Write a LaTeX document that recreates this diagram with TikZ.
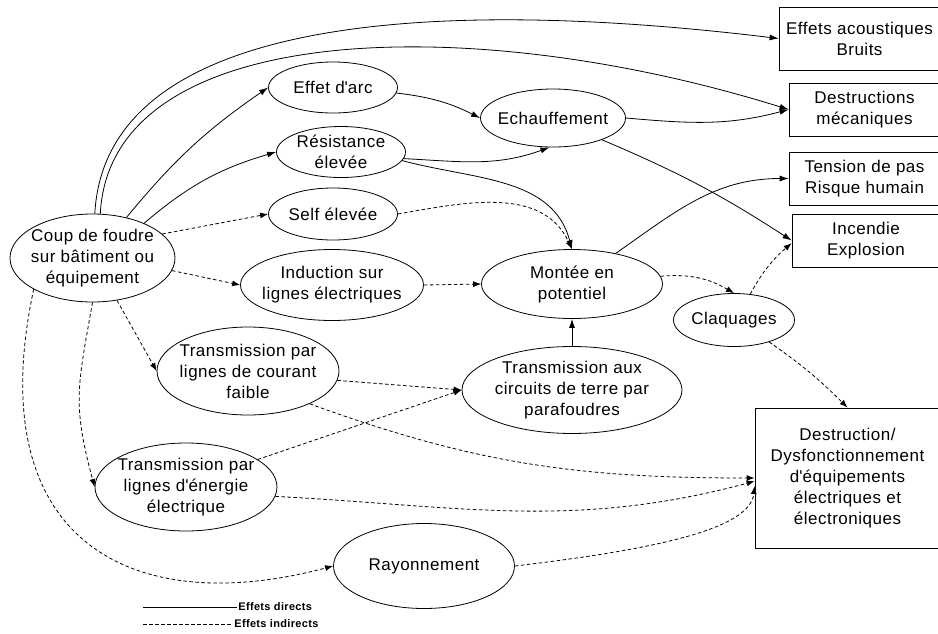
\documentclass[tikz,border=0pt]{standalone}
\usepackage{fontspec}
\setmainfont[LetterSpace=3]{Liberation Sans}
\usetikzlibrary{shapes.geometric, arrows.meta, positioning}

\begin{document}
\begin{tikzpicture}[x=1pt, y=-1pt, line width=0.8pt,
    bulle/.style={draw, ellipse, inner sep=-100pt, align=center, font=\fontsize{17}{21}\selectfont},
    boite/.style={draw, rectangle, inner sep=-100pt, align=center, font=\fontsize{17}{21}\selectfont},
    direct/.style={-{Latex[length=9pt,width=6pt]}},
    indirect/.style={-{Latex[length=8pt,width=6pt]}, dash pattern=on 3.5pt off 2.5pt},
    legende/.style={anchor=west, inner sep=1pt, font=\bfseries\fontsize{11}{12}\selectfont}]
    \useasboundingbox (0,0) rectangle (938,633);
    \clip (0,0) rectangle (938,633);

    % causes
    \node (coup) [bulle, minimum width=165pt, minimum height=88pt] at (92.5,258) {Coup de foudre\\sur bâtiment ou\\équipement};
    \node (arc) [bulle, minimum width=129pt, minimum height=51pt] at (333,87.5) {Effet d\textquotesingle arc};
    \node (resist) [bulle, minimum width=129pt, minimum height=51pt] at (341,152) {Résistance\\élevée};
    \node (self) [bulle, minimum width=129pt, minimum height=52pt] at (333,214) {Self élevée};
    \node (induction) [bulle, minimum width=183pt, minimum height=71pt] at (332,285) {Induction sur\\lignes électriques};
    \node (faible) [bulle, minimum width=182pt, minimum height=88pt] at (248,371) {Transmission par\\lignes de courant\\faible};
    \node (energie) [bulle, minimum width=182pt, minimum height=88pt] at (186,487) {Transmission par\\lignes d\textquotesingle énergie\\électrique};
    \node (rayon) [bulle, minimum width=181pt, minimum height=85pt] at (424,566) {Rayonnement};
    \node (echauff) [bulle, minimum width=145pt, minimum height=58pt] at (553,118) {Echauffement};
    \node (montee) [bulle, minimum width=181pt, minimum height=69pt] at (572,284) {Montée en\\potentiel};
    \node (terre) [bulle, minimum width=220pt, minimum height=87pt] at (572,390) {Transmission aux\\circuits de terre par\\parafoudres};
    \node (claq) [bulle, minimum width=121pt, minimum height=53pt] at (734,320) {Claquages};

    % effets
    \node (acoust) [boite, minimum width=161pt, minimum height=63pt] at (859.5,38.5) {Effets acoustiques\\Bruits};
    \node (meca) [boite, minimum width=151pt, minimum height=53pt] at (864.5,109.5) {Destructions\\mécaniques};
    \node (tension) [boite, minimum width=151pt, minimum height=53pt] at (864.5,178.5) {Tension de pas\\Risque humain};
    \node (incendie) [boite, minimum width=148pt, minimum height=53pt] at (866,240.5) {Incendie\\Explosion};
    \node (destr) [boite, minimum width=185pt, minimum height=140pt] at (847.5,478) {Destruction/\\Dysfonctionnement\\d\textquotesingle équipements\\électriques et\\électroniques};

    % effets directs
    \draw[direct] (coup.87) .. controls (105,20) and (420,-5) .. (acoust.west);
    \draw[direct] (coup.80) .. controls (110,20) and (470,10) .. (meca.west);
    \path[direct] (coup.50) edge[bend left=8] (arc.west);
    \path[direct] (coup.34) edge[bend left=12] (resist.west);
    \path[direct] (arc.-5) edge[bend left=10] (echauff.west);
    \path[direct] (resist.-6) edge[out=-3, in=-160] (echauff.-97);
    \path[direct] (resist.-8) edge[out=-15, in=105] (montee.north);
    \path[direct] (echauff.east) edge[out=-5, in=195] (meca.west);
    \path[direct] (echauff.-24) edge[bend left=5] (incendie.west);
    \path[direct] (montee.35) edge[out=35, in=180] (tension.west);
    \path[direct] (terre) edge (montee);

    % effets indirects
    \path[indirect] (coup.19) edge (self.west);
    \path[indirect] (coup.-9) edge (induction.west);
    \path[indirect] (self.east) edge[out=10, in=115] (montee.north);
    \path[indirect] (induction.east) edge (montee.west);
    \path[indirect] (montee.5) edge[out=5, in=150] (claq.north);
    \path[indirect] (claq.58) edge[bend left=10] (incendie.182);
    \path[indirect] (claq.-32) edge[bend left=5] (destr.north);
    \path[indirect] (coup.-60) edge (faible.west);
    \path[indirect] (coup.south) edge[out=-100, in=105, looseness=1.2] (energie.west);
    \draw[indirect] (coup.-152) .. controls (-20,540) and (130,620) .. (rayon.west);
    \path[indirect] (faible.-6) edge (terre.west);
    \path[indirect] (energie.21) edge (terre.west);
    \path[indirect] (faible.-28) edge[out=-20, in=180] (destr.west);
    \path[indirect] (energie.-6) edge[out=-3, in=-165] (destr.182);
    \draw[indirect] (rayon.east) .. controls (650,550) and (750,530) .. (destr.185);

    % legende
    \node (legdir) [legende] at (237,607) {Effets directs};
    \node (legind) [legende] at (233,624) {Effets indirects};
    \coordinate (legdirA) at (143,607);
    \coordinate (legindA) at (143,624);
    \draw (legdirA) -- (legdir.west);
    \draw[dash pattern=on 3.5pt off 2.5pt] (legindA) -- (legind.west);
\end{tikzpicture}
\end{document}
